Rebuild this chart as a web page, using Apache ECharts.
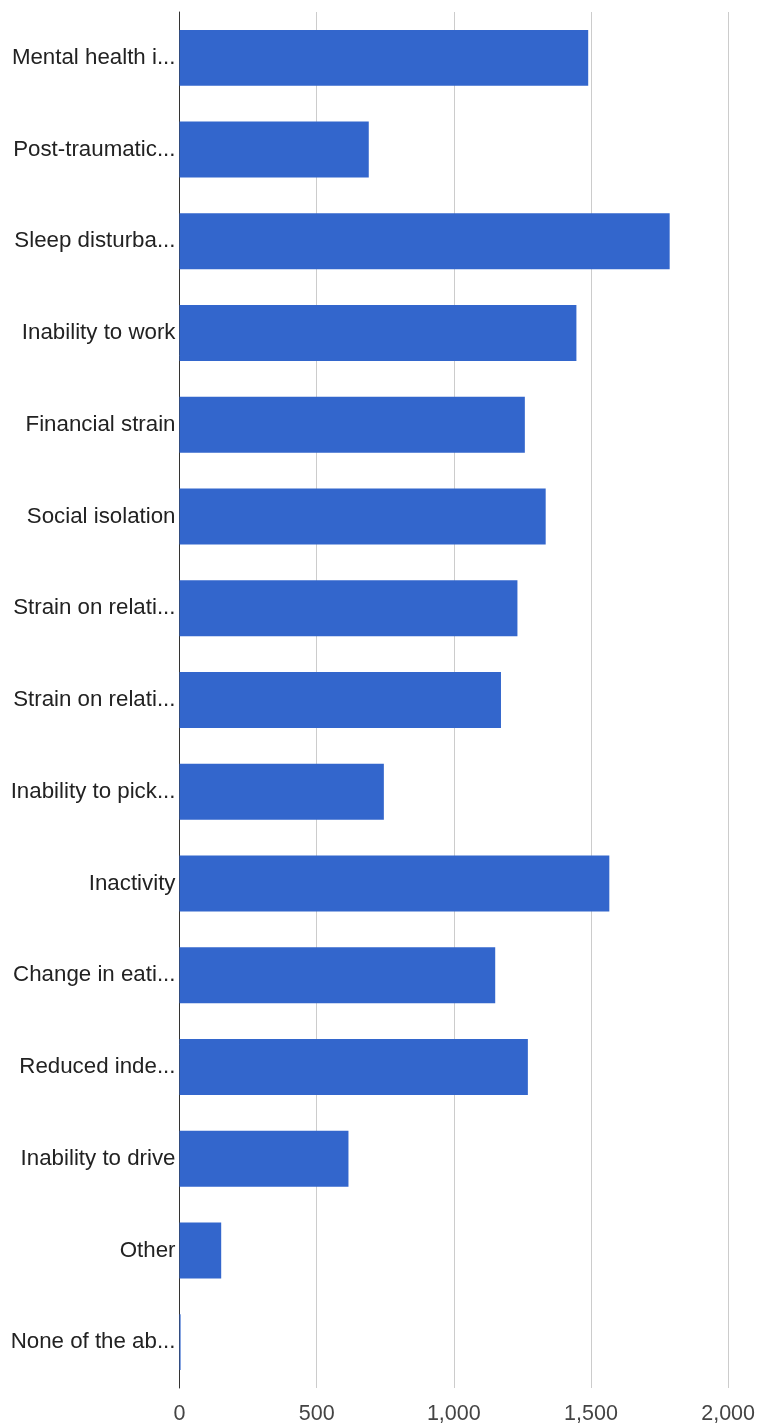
<!DOCTYPE html>
<html>
<head>
<meta charset="utf-8">
<script src="https://cdn.jsdelivr.net/npm/echarts@6/dist/echarts.min.js"></script>
<style>
  html, body { margin: 0; padding: 0; background: #fff; }
  #chart { width: 758px; height: 1425px; }
</style>
</head>
<body>
<div id="chart"></div>
<script>
// Category labels as shown on the axis (long names are clipped with "...")
const categories = [
  'Mental health i...',
  'Post-traumatic...',
  'Sleep disturba...',
  'Inability to work',
  'Financial strain',
  'Social isolation',
  'Strain on relati...',
  'Strain on relati...',
  'Inability to pick...',
  'Inactivity',
  'Change in eati...',
  'Reduced inde...',
  'Inability to drive',
  'Other',
  'None of the ab...'
];

// Number of responses per category
const responses = [1490, 690, 1787, 1447, 1259, 1335, 1232, 1172, 745, 1567, 1151, 1270, 616, 152, 4];

// Value axis ticks
const tickMin = 0;
const tickMax = 2000;
const tickStep = 500;

// Each row needs a unique key because two clipped labels read the same
const rowKeys = categories.map((c, i) => i + '|' + c);

const chart = echarts.init(document.getElementById('chart'), null, { renderer: 'canvas' });

chart.setOption({
  animation: false,
  backgroundColor: '#ffffff',
  grid: { left: 179.5, right: 28.5, top: 12, bottom: 36, containLabel: false },
  xAxis: {
    type: 'value',
    min: tickMin,
    max: tickMax,
    interval: tickStep,
    axisLine: { show: false },
    axisTick: { show: false },
    splitLine: { show: true, lineStyle: { color: '#cccccc', width: 1 } },
    axisLabel: {
      color: '#444444',
      fontFamily: 'Liberation Sans, Arial, sans-serif',
      fontSize: 21.5,
      margin: 15,
      formatter: v => v.toLocaleString('en-US')
    }
  },
  yAxis: {
    type: 'category',
    data: rowKeys,
    inverse: true,
    axisLine: { show: true, onZero: false, lineStyle: { color: '#333333', width: 1 } },
    axisTick: { show: false },
    splitLine: { show: false },
    axisLabel: {
      color: '#222222',
      fontFamily: 'Liberation Sans, Arial, sans-serif',
      fontSize: 22.3,
      margin: 4,
      formatter: v => v.slice(v.indexOf('|') + 1)
    }
  },
  series: [{
    type: 'bar',
    data: responses,
    barWidth: '61%',
    itemStyle: { color: '#3366cc' },
    emphasis: { disabled: true }
  }]
});
</script>
</body>
</html>
